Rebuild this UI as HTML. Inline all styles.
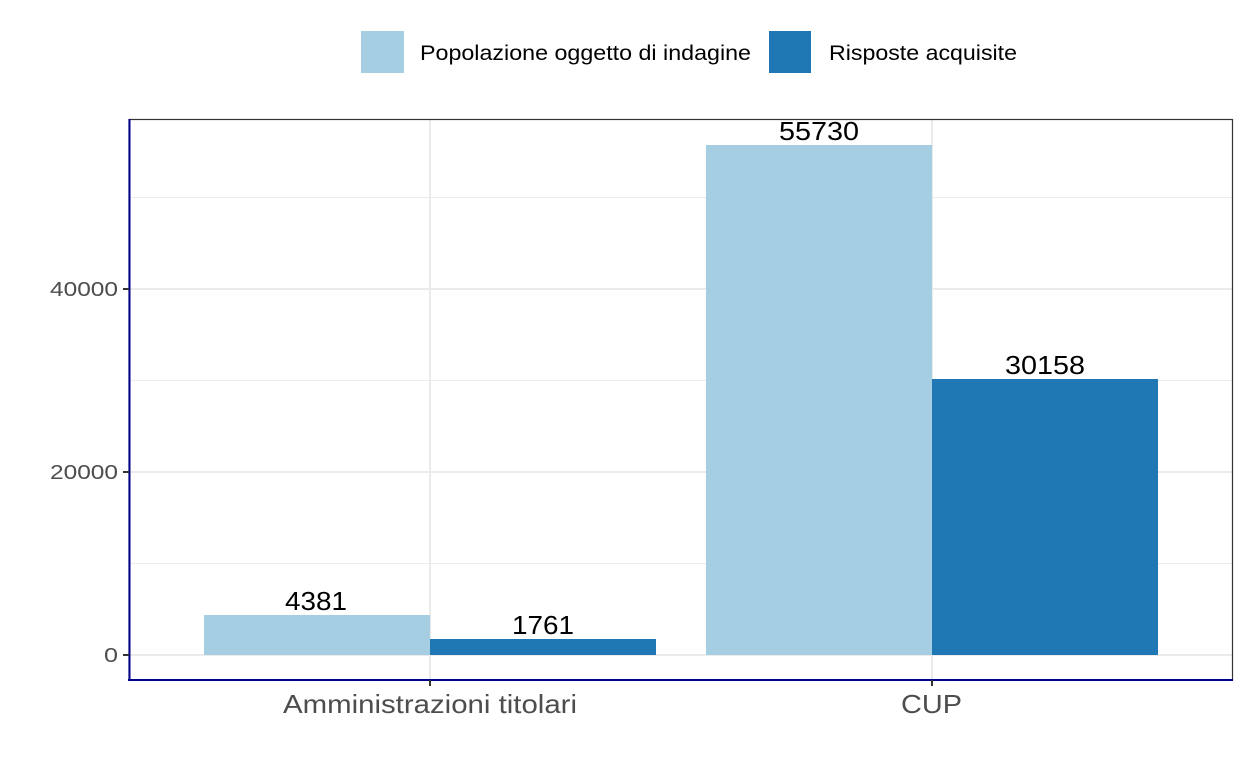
<!DOCTYPE html>
<html><head><meta charset="utf-8"><style>body{margin:0;background:#fff}svg{display:block}text{font-family:"Liberation Sans",sans-serif}</style></head>
<body>
<svg width="1248" height="768" viewBox="0 0 1248 768">
<rect width="1248" height="768" fill="#fff"/>
<g stroke="#ebebeb" stroke-width="1">
<line x1="129" x2="1233" y1="563.5" y2="563.5"/>
<line x1="129" x2="1233" y1="380.5" y2="380.5"/>
<line x1="129" x2="1233" y1="197.5" y2="197.5"/>
</g>
<g stroke="#ebebeb" stroke-width="2">
<line x1="129" x2="1233" y1="655" y2="655"/>
<line x1="129" x2="1233" y1="472" y2="472"/>
<line x1="129" x2="1233" y1="289" y2="289"/>
<line x1="430" x2="430" y1="119" y2="680"/>
<line x1="932" x2="932" y1="119" y2="680"/>
</g>
<rect x="204" y="615" width="226" height="40" fill="#a6cee3"/>
<rect x="430" y="639" width="226" height="16" fill="#1f78b4"/>
<rect x="706" y="145" width="226" height="510" fill="#a6cee3"/>
<rect x="932" y="379" width="226" height="276" fill="#1f78b4"/>
<g font-size="26" fill="#000" lengthAdjust="spacingAndGlyphs">
<text x="285" y="610" textLength="62" lengthAdjust="spacingAndGlyphs">4381</text>
<text x="512" y="634" textLength="62" lengthAdjust="spacingAndGlyphs">1761</text>
<text x="779" y="140" textLength="80" lengthAdjust="spacingAndGlyphs">55730</text>
<text x="1005" y="374" textLength="80" lengthAdjust="spacingAndGlyphs">30158</text>
</g>
<rect x="129" y="119.5" width="1103.5" height="560.5" fill="none" stroke="#333" stroke-width="1.2"/>
<line x1="129.5" y1="119" x2="129.5" y2="681" stroke="#00008b" stroke-width="2"/>
<line x1="128" y1="680" x2="1233" y2="680" stroke="#00008b" stroke-width="2"/>
<g stroke="#333" stroke-width="2">
<line x1="123" x2="129" y1="655" y2="655"/>
<line x1="123" x2="129" y1="472" y2="472"/>
<line x1="123" x2="129" y1="289" y2="289"/>
<line x1="430" x2="430" y1="680" y2="686"/>
<line x1="932" x2="932" y1="680" y2="686"/>
</g>
<g font-size="20" fill="#4d4d4d">
<text x="104" y="662" textLength="14" lengthAdjust="spacingAndGlyphs">0</text>
<text x="50" y="479" textLength="68" lengthAdjust="spacingAndGlyphs">20000</text>
<text x="50" y="296" textLength="68" lengthAdjust="spacingAndGlyphs">40000</text>
</g>
<g font-size="26" fill="#4d4d4d">
<text x="283" y="713" textLength="294" lengthAdjust="spacingAndGlyphs">Amministrazioni titolari</text>
<text x="901" y="713" textLength="61" lengthAdjust="spacingAndGlyphs">CUP</text>
</g>
<rect x="361" y="31" width="43" height="42" fill="#a6cee3"/>
<rect x="769" y="31" width="42" height="42" fill="#1f78b4"/>
<g font-size="21" fill="#000">
<text x="420" y="60" textLength="331" lengthAdjust="spacingAndGlyphs">Popolazione oggetto di indagine</text>
<text x="829" y="60" textLength="188" lengthAdjust="spacingAndGlyphs">Risposte acquisite</text>
</g>
</svg>
</body></html>
